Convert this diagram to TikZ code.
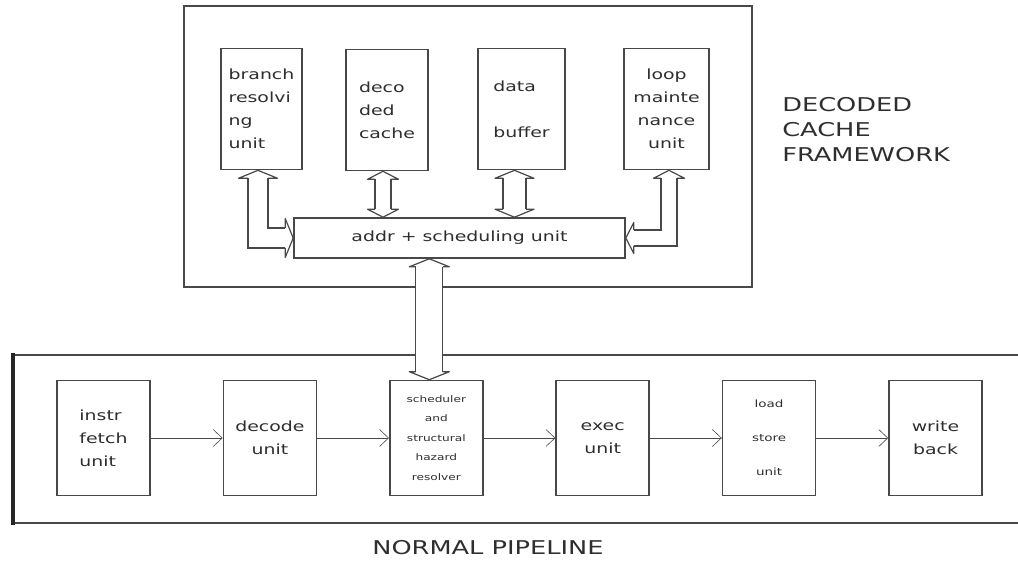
\documentclass[tikz,border=0pt]{standalone}
\usepackage{fontspec}
\setmainfont[FakeStretch=1.35]{DejaVu Sans}
\usetikzlibrary{arrows.meta,positioning}
\definecolor{linegray}{HTML}{484848}
\definecolor{inkgray}{HTML}{2E2E2E}

% hollow head for the wide buses
\pgfdeclarearrow{
  name = Bus,
  parameters = {\the\pgfarrowlength,\the\pgfarrowwidth,\the\pgfarrowinset},
  setup code = {
    \pgfarrowssettipend{0pt}
    \pgfarrowssetlineend{-\pgfarrowlength}
    \pgfarrowssetbackend{-\pgfarrowlength}
    \pgfarrowshullpoint{0pt}{0pt}
    \pgfarrowshullpoint{-\pgfarrowlength}{.5\pgfarrowwidth}
    \pgfarrowshullpoint{-\pgfarrowlength}{-.5\pgfarrowwidth}
    \pgfarrowssavethe\pgfarrowlength
    \pgfarrowssavethe\pgfarrowwidth
    \pgfarrowssavethe\pgfarrowinset
  },
  drawing code = {
    \pgfsetlinewidth{1.2pt}
    \pgfsetroundjoin
    \pgfpathmoveto{\pgfqpoint{-\pgfarrowlength}{\pgfarrowinset}}
    \pgfpathlineto{\pgfqpoint{-\pgfarrowlength-2pt}{.5\pgfarrowwidth}}
    \pgfpathlineto{\pgfqpoint{0pt}{0pt}}
    \pgfpathlineto{\pgfqpoint{-\pgfarrowlength-2pt}{-.5\pgfarrowwidth}}
    \pgfpathlineto{\pgfqpoint{-\pgfarrowlength}{-\pgfarrowinset}}
    \pgfusepathqstroke
  },
  defaults = {length=8pt, width=36pt, inset=9pt}
}

\tikzset{
  unit/.style={draw=linegray, line width=1.6pt, minimum width=93pt, minimum height=115pt,
    inner sep=0pt, align=center, text=inkgray, font=\fontsize{14}{23}\selectfont},
  cacheunit/.style={unit, minimum width=82pt, minimum height=121pt, align=left},
  bus/.style n args={3}{draw=linegray, line width=1.2pt, double=white, double distance=#1,
    {Bus[inset=#2,width=#3]}-{Bus[inset=#2,width=#3]}},
  title/.style={inner sep=0pt, align=left, text=inkgray, font=\fontsize{19}{25}\selectfont}
}

\begin{document}
\begin{tikzpicture}[x=1pt,y=-1pt,>={Straight Barb[length=9pt,width=17pt]},node distance=166.4pt,semithick]
    \useasboundingbox (0,0) rectangle (1018,561);

    % frames
    \draw[linegray, line width=1.5pt] (184,6) rectangle (752,287);
    \draw[linegray, line width=1.5pt] (1018,355) -| (13,523) -- (1018,523);
    \draw[black!85, line width=3.5pt] (13,353.5) -- (13,524.5);

    % decoded cache framework
    \node[cacheunit, minimum width=81pt]                (branch) at (261.5,109) {branch\\resolvi\\ng\\unit};
    \node[cacheunit]                                    (deco)   at (387,110)   {deco\\ded\\cache};
    \node[cacheunit, minimum width=87pt]                (data)   at (521.5,109) {data\\[23pt]buffer};
    \node[cacheunit, minimum width=85pt, align=center]  (loop)   at (666.5,109) {loop\\mainte\\nance\\unit};
    \node[unit, minimum width=331pt, minimum height=40pt] (addr) at (459.5,238) {addr + scheduling unit};

    % normal pipeline
    \node[unit, align=left]  (fetch)  at (103.5,438)   {instr\\fetch\\unit};
    \node[unit]              (decode) [right of=fetch]  {decode\\unit};
    \node[unit, font=\fontsize{9}{19.5}\selectfont]  (sched) [right of=decode] {scheduler\\and\\structural\\hazard\\resolver};
    \node[unit]              (exec)   [right of=sched]  {exec\\unit};
    \node[unit, font=\fontsize{10}{34}\selectfont]   (ldst)  [right of=exec]   {load\\store\\unit};
    \node[unit]              (wb)     [right of=ldst]   {write\\back};

    \node[title, anchor=north west] (cachelabel) at (782,97) {DECODED\\CACHE\\FRAMEWORK};
    \node[title, anchor=base]       (pipelabel)  at (488,554) {NORMAL PIPELINE};

    % buses
    \draw[bus={18.8pt}{10pt}{39pt}]   ([xshift=-3.5pt]branch.south) |- (addr.west);
    \draw[bus={14.8pt}{8pt}{31pt}]    ([xshift=-4pt]deco.south) -- ([xshift=-4pt]deco.south |- addr.north);
    \draw[bus={21.8pt}{11.5pt}{39pt}] ([xshift=-7pt]data.south) -- ([xshift=-7pt]data.south |- addr.north);
    \draw[bus={14.8pt}{8pt}{31pt}]    ([xshift=2.5pt]loop.south) |- (addr.east);
    \draw[bus={25.8pt}{13.5pt}{40pt}] ([xshift=-7pt]sched.north) -- ([xshift=-7pt]sched.north |- addr.south);

    \draw[->, linegray] (fetch) -- (decode);
    \draw[->, linegray] (decode) -- (sched);
    \draw[->, linegray] (sched) -- (exec);
    \draw[->, linegray] (exec) -- (ldst);
    \draw[->, linegray] (ldst) -- (wb);
\end{tikzpicture}
\end{document}
